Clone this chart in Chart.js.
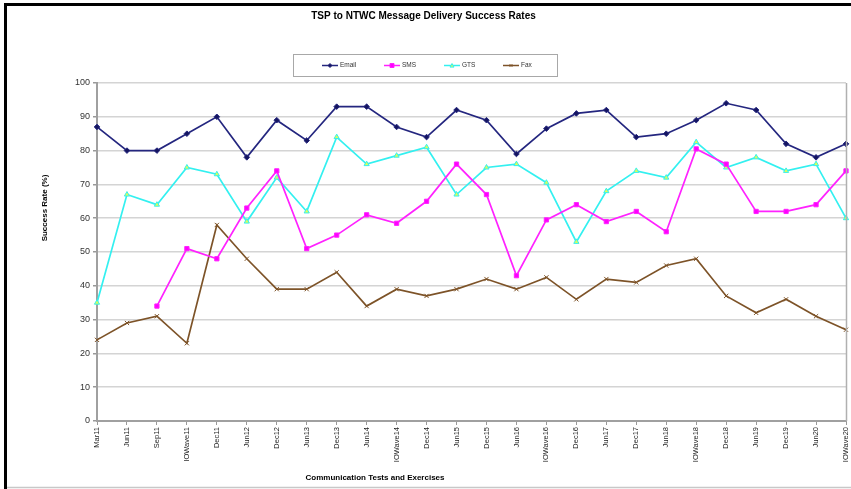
<!DOCTYPE html>
<html>
<head>
<meta charset="utf-8">
<script src="https://cdn.jsdelivr.net/npm/chart.js@4.4.1/dist/chart.umd.min.js"></script>
<style>
  html, body { margin: 0; padding: 0; background: #fff; }
  #wrap { width: 851px; height: 489px; position: relative; }
</style>
</head>
<body>
<div id="wrap"><canvas id="c" width="851" height="489"></canvas></div>
<script>
const categories = ["Mar11","Jun11","Sep11","IOWave11","Dec11","Jun12","Dec12","Jun13","Dec13","Jun14","IOWave14","Dec14","Jun15","Dec15","Jun16","IOWave16","Dec16","Jun17","Dec17","Jun18","IOWave18","Dec18","Jun19","Dec19","Jun20","IOWave20"];
const emailValues = [87,80,80,85,90,78,89,83,93,93,87,84,92,89,79,86.5,91,92,84,85,89,94,92,82,78,82];
const smsValues = [null,null,34,51,48,63,74,51,55,61,58.5,65,76,67,43,59.5,64,59,62,56,80.5,76,62,62,64,74];
const gtsValues = [35,67,64,75,73,59,72,62,84,76,78.5,81,67,75,76,70.5,53,68,74,72,82.5,75,78,74,76,60];
const faxValues = [24,29,31,23,58,48,39,39,44,34,39,37,39,42,39,42.5,36,42,41,46,48,37,32,36,31,27];
const seriesNames = ["Email","SMS","GTS","Fax"];
const yTicks = [0,10,20,30,40,50,60,70,80,90,100];
const chartTitle = "TSP to NTWC Message Delivery Success Rates";
const xTitle = "Communication Tests and Exercises";
const yTitle = "Success Rate (%)";

const FONT = "Arial, 'Liberation Sans', sans-serif";

function drawMarker(ctx, style, x, y, r, fill, stroke) {
  ctx.save();
  ctx.fillStyle = fill; ctx.strokeStyle = stroke; ctx.lineWidth = 1;
  ctx.beginPath();
  if (style === 'rectRot') {
    ctx.moveTo(x, y - r); ctx.lineTo(x + r, y); ctx.lineTo(x, y + r); ctx.lineTo(x - r, y); ctx.closePath();
    ctx.fill(); ctx.stroke();
  } else if (style === 'rect') {
    ctx.rect(x - r, y - r, 2 * r, 2 * r); ctx.fill(); ctx.stroke();
  } else if (style === 'triangle') {
    ctx.moveTo(x, y - r); ctx.lineTo(x + r, y + r * 0.8); ctx.lineTo(x - r, y + r * 0.8); ctx.closePath();
    ctx.fill(); ctx.stroke();
  } else if (style === 'crossRot') {
    ctx.moveTo(x - r * 0.7, y - r * 0.7); ctx.lineTo(x + r * 0.7, y + r * 0.7);
    ctx.moveTo(x + r * 0.7, y - r * 0.7); ctx.lineTo(x - r * 0.7, y + r * 0.7);
    ctx.stroke();
  }
  ctx.restore();
}

const decorPlugin = {
  id: 'decor',
  afterDraw(chart) {
    const ctx = chart.ctx;
    const a = chart.chartArea;
    ctx.save();
    // outer frame lines
    ctx.strokeStyle = '#000'; ctx.lineWidth = 3;
    ctx.beginPath(); ctx.moveTo(4, 4.5); ctx.lineTo(851, 4.5); ctx.stroke();
    ctx.beginPath(); ctx.moveTo(5.5, 3); ctx.lineTo(5.5, 489); ctx.stroke();
    ctx.strokeStyle = '#c8c8c8'; ctx.lineWidth = 1.5;
    ctx.beginPath(); ctx.moveTo(7, 487.5); ctx.lineTo(851, 487.5); ctx.stroke();
    // plot area right border
    ctx.strokeStyle = '#b0b0b0'; ctx.lineWidth = 1.5;
    ctx.beginPath(); ctx.moveTo(a.right + 0.5, a.top); ctx.lineTo(a.right + 0.5, a.bottom); ctx.stroke();
    // legend box
    ctx.strokeStyle = '#a8a8a8'; ctx.lineWidth = 1;
    ctx.strokeRect(293.5, 54.5, 264, 22);
    const xs = [322, 384, 444, 503];
    const ly = 65.5;
    chart.data.datasets.forEach((ds, i) => {
      const x0 = xs[i];
      ctx.strokeStyle = ds.borderColor; ctx.lineWidth = 1.5;
      ctx.beginPath(); ctx.moveTo(x0, ly); ctx.lineTo(x0 + 16, ly); ctx.stroke();
      drawMarker(ctx, ds.pointStyle, x0 + 8, ly, 2, ds.pointBackgroundColor, ds.pointBorderColor);
      ctx.fillStyle = '#333';
      ctx.font = '6.5px ' + FONT;
      ctx.textBaseline = 'middle'; ctx.textAlign = 'left';
      ctx.fillText(ds.label, x0 + 18, ly);
    });
    // axis titles
    ctx.fillStyle = '#000';
    ctx.font = 'bold 8px ' + FONT;
    ctx.textAlign = 'center'; ctx.textBaseline = 'middle';
    ctx.fillText(xTitle, 375, 478);
    ctx.save();
    ctx.translate(45, 208);
    ctx.rotate(-Math.PI / 2);
    ctx.fillText(yTitle, 0, 0);
    ctx.restore();
    ctx.restore();
  }
};

const ds = (label, data, color, style, radius, pfill) => ({
  label, data,
  borderColor: color, backgroundColor: color,
  borderWidth: 1.7,
  pointStyle: style, pointRadius: radius,
  pointBackgroundColor: pfill, pointBorderColor: color, pointBorderWidth: 1,
  tension: 0, spanGaps: false, fill: false
});

new Chart(document.getElementById('c'), {
  type: 'line',
  data: {
    labels: categories,
    datasets: [
      ds(seriesNames[0], emailValues, '#24267f', 'rectRot', 2.8, '#151560'),
      ds(seriesNames[1], smsValues, '#ff22ff', 'rect', 3, '#ff00ff'),
      ds(seriesNames[2], gtsValues, '#33f0f0', 'triangle', 3, '#ddff55'),
      ds(seriesNames[3], faxValues, '#7d5328', 'crossRot', 3, '#7d5328')
    ]
  },
  options: {
    responsive: false,
    animation: false,
    devicePixelRatio: 1,
    layout: { padding: { left: 0, right: 4, top: 0, bottom: 0 } },
    plugins: {
      legend: { display: false },
      tooltip: { enabled: false },
      title: {
        display: true, text: chartTitle, color: '#000',
        font: { family: FONT, size: 10, weight: 'bold', lineHeight: 1.2 },
        padding: { top: 10, bottom: 61 }
      }
    },
    scales: {
      x: {
        type: 'category',
        offset: false,
        grid: { drawOnChartArea: false, drawTicks: true, tickLength: 4, tickColor: '#999', color: '#999' },
        border: { color: '#a0a0a0', width: 2 },
        ticks: { autoSkip: false, minRotation: 90, maxRotation: 90, padding: 2, color: '#222', font: { family: FONT, size: 7.5 } },
        afterFit(scale) { scale.height = 68; scale.paddingRight = 0; scale.paddingLeft = 0; }
      },
      y: {
        min: 0, max: 100,
        afterBuildTicks(scale) { scale.ticks = yTicks.map(v => ({ value: v })); },
        grid: { color: '#d4d4d4', lineWidth: 1.5, tickLength: 4, tickColor: '#999', drawTicks: true },
        border: { color: '#a0a0a0', width: 2 },
        ticks: { padding: 3, color: '#333', font: { family: FONT, size: 9 } },
        afterFit(scale) { scale.width = 97; scale.paddingTop = 0; scale.paddingBottom = 0; }
      }
    }
  },
  plugins: [decorPlugin]
});
</script>
</body>
</html>
